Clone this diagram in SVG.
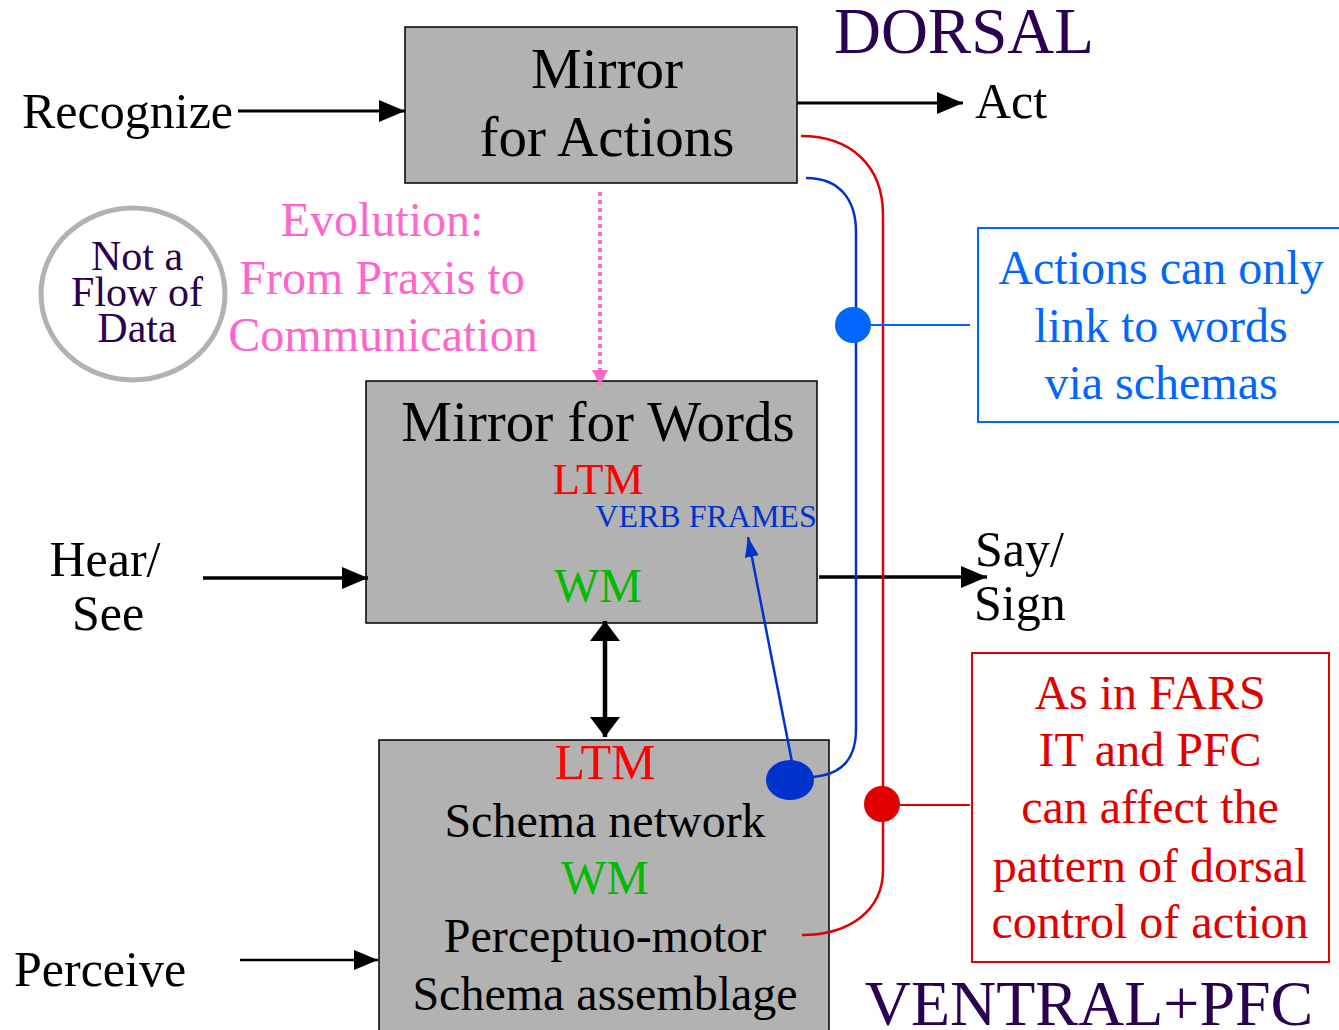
<svg xmlns="http://www.w3.org/2000/svg" width="1339" height="1030" viewBox="0 0 1339 1030" font-family="'Liberation Serif','Times New Roman',serif">
<defs>
<style>
text{font-family:"Liberation Serif","Times New Roman",serif;}
.box{fill:#b2b2b2;stroke:#000;stroke-width:1.5;}
.t57{font-size:57px;fill:#000;text-anchor:middle;}
.t50{font-size:50px;fill:#000;}
.t48{font-size:48px;fill:#000;text-anchor:middle;}
.ltm{fill:#ff0000;text-anchor:middle;}
.wm{fill:#00bb00;text-anchor:middle;}
.pink{font-size:48px;fill:#ff66cc;text-anchor:middle;}
.purple{fill:#2b0050;}
.bluet{font-size:48px;fill:#0066ff;text-anchor:middle;}
.redt{font-size:48px;fill:#e00000;text-anchor:middle;}
.blk{stroke:#000;fill:none;}
</style>
<marker id="ah" viewBox="0 0 26 22" refX="26" refY="11" markerWidth="26" markerHeight="22" markerUnits="userSpaceOnUse" orient="auto"><path d="M0,0 L26,11 L0,22 z" fill="#000"/></marker>
<marker id="ahs" viewBox="0 0 24 20" refX="24" refY="10" markerWidth="24" markerHeight="20" markerUnits="userSpaceOnUse" orient="auto"><path d="M0,0 L24,10 L0,20 z" fill="#000"/></marker>
<marker id="ahd" viewBox="0 0 20 30" refX="20" refY="15" markerWidth="20" markerHeight="30" markerUnits="userSpaceOnUse" orient="auto-start-reverse"><path d="M0,0 L20,15 L0,30 z" fill="#000"/></marker>
<marker id="ahp" viewBox="0 0 15 16" refX="15" refY="8" markerWidth="15" markerHeight="16" markerUnits="userSpaceOnUse" orient="auto"><path d="M0,0 L15,8 L0,16 z" fill="#ff66cc"/></marker>
<marker id="ahb" viewBox="0 0 20 14" refX="20" refY="7" markerWidth="20" markerHeight="14" markerUnits="userSpaceOnUse" orient="auto"><path d="M0,0 L20,7 L0,14 z" fill="#0033cc"/></marker>
</defs>
<rect width="1339" height="1030" fill="#fff"/>

<g id="dorsal"><text x="964" y="53" font-size="65" class="purple" text-anchor="middle">DORSAL</text></g>
<g id="ventral"><text x="1089" y="1025" font-size="64" class="purple" text-anchor="middle">VENTRAL+PFC</text></g>

<g id="mirror-actions">
<rect x="405" y="27" width="392" height="156" class="box"/>
<text x="607" y="88" class="t57">Mirror</text>
<text x="607" y="156" class="t57">for Actions</text>
</g>

<g id="recognize"><text x="22" y="128" class="t50">Recognize</text></g>
<g id="act"><text x="975" y="118" class="t50">Act</text></g>

<g id="not-flow">
<ellipse cx="133" cy="294" rx="92" ry="86" fill="none" stroke="#b2b2b2" stroke-width="5"/>
<text x="137" y="270" font-size="42" class="purple" text-anchor="middle">Not a</text>
<text x="137" y="306" font-size="42" class="purple" text-anchor="middle">Flow of</text>
<text x="137" y="342" font-size="42" class="purple" text-anchor="middle">Data</text>
</g>

<g id="evolution">
<text x="382" y="236" class="pink">Evolution:</text>
<text x="382" y="294" class="pink">From Praxis to</text>
<text x="383" y="351" class="pink">Communication</text>
</g>

<g id="mirror-words">
<rect x="366" y="381" width="451" height="242" class="box"/>
<text x="598" y="441" class="t57">Mirror for Words</text>
<text x="598" y="494" font-size="45" class="ltm">LTM</text>
<text x="706" y="527" font-size="32" fill="#0033cc" text-anchor="middle">VERB FRAMES</text>
<text x="598" y="602" font-size="48" class="wm">WM</text>
</g>

<g id="hear-see">
<text x="105" y="576" class="t50" text-anchor="middle">Hear/</text>
<text x="108" y="630" class="t50" text-anchor="middle">See</text>
</g>
<g id="say-sign">
<text x="975" y="566" class="t50">Say/</text>
<text x="974" y="620" class="t50">Sign</text>
</g>

<g id="schema">
<rect x="379" y="740" width="450" height="300" class="box"/>
<text x="605" y="779" font-size="50" class="ltm">LTM</text>
<text x="605" y="837" class="t48">Schema network</text>
<text x="605" y="894" font-size="48" class="wm">WM</text>
<text x="605" y="952" class="t48">Perceptuo-motor</text>
<text x="605" y="1010" class="t48">Schema assemblage</text>
</g>

<g id="perceive"><text x="14" y="986" class="t50" font-size="51">Perceive</text></g>

<g id="note-blue">
<rect x="978" y="228" width="365" height="194" fill="none" stroke="#0066ff" stroke-width="2"/>
<text x="1161" y="284" class="bluet">Actions can only</text>
<text x="1161" y="342" class="bluet">link to words</text>
<text x="1161" y="399" class="bluet">via schemas</text>
</g>

<g id="note-red">
<rect x="972" y="653" width="357" height="309" fill="none" stroke="#e00000" stroke-width="2"/>
<text x="1150" y="709" class="redt">As in FARS</text>
<text x="1150" y="766" class="redt">IT and PFC</text>
<text x="1150" y="823" class="redt">can affect the</text>
<text x="1150" y="882" class="redt">pattern of dorsal</text>
<text x="1150" y="938" class="redt">control of action</text>
</g>

<g id="connectors">
<line x1="238" y1="111" x2="405" y2="111" class="blk" stroke-width="3" marker-end="url(#ah)"/>
<line x1="797" y1="103" x2="963" y2="103" class="blk" stroke-width="3" marker-end="url(#ah)"/>
<line x1="203" y1="578" x2="368" y2="578" class="blk" stroke-width="3.5" marker-end="url(#ah)"/>
<line x1="819" y1="577" x2="987" y2="577" class="blk" stroke-width="3.5" marker-end="url(#ah)"/>
<line x1="240" y1="960" x2="378" y2="960" class="blk" stroke-width="2.5" marker-end="url(#ahs)"/>
<line x1="605" y1="621" x2="605" y2="737" class="blk" stroke-width="4.5" marker-start="url(#ahd)" marker-end="url(#ahd)"/>
<line x1="600" y1="192" x2="600" y2="385" stroke="#ff66cc" stroke-width="4" stroke-dasharray="4 4" marker-end="url(#ahp)"/>
<path d="M806,178 C840,178 856,200 856,232 L856,730 C856,760 840,775 812,777" fill="none" stroke="#0033cc" stroke-width="2.5"/>
<line x1="792" y1="762" x2="748" y2="537" stroke="#0033cc" stroke-width="2.5" marker-end="url(#ahb)"/>
<path d="M801,136 C850,136 883,165 883,215 L883,870 C883,910 850,935 802,935" fill="none" stroke="#e00000" stroke-width="2.5"/>
<line x1="871" y1="325" x2="970" y2="325" stroke="#0066ff" stroke-width="2"/>
<line x1="900" y1="805" x2="970" y2="805" stroke="#e00000" stroke-width="2"/>
<circle cx="853" cy="325" r="18" fill="#0066ff"/>
<ellipse cx="790" cy="780" rx="24" ry="20" fill="#0033cc"/>
<circle cx="882" cy="804" r="18" fill="#e00000"/>
</g>
</svg>
